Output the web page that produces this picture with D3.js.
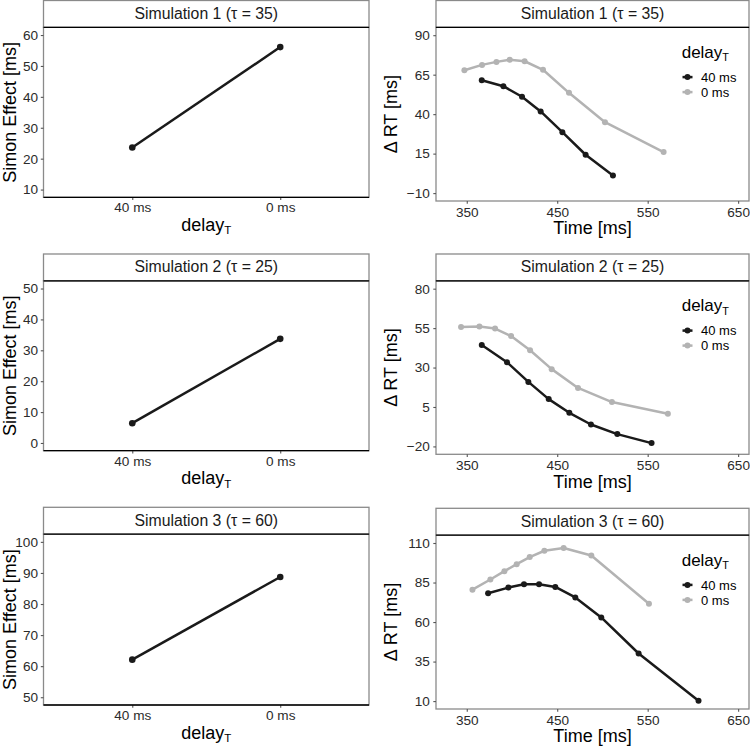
<!DOCTYPE html>
<html>
<head>
<meta charset="utf-8">
<script src="https://cdn.jsdelivr.net/npm/d3@7"></script>
<style>
  body { margin: 0; background: #fff; }
  svg, svg text { font-family: "Liberation Sans", Arial, Helvetica, sans-serif; }
</style>
</head>
<body>
<div id="chart"></div>
<script>
// values
let simTitles = ["Simulation 1 (\u03C4 = 35)", "Simulation 2 (\u03C4 = 25)", "Simulation 3 (\u03C4 = 60)"];
let delayLabels = ["40 ms", "0 ms"];

let simonEffect1 = [23.6, 56.1];
let simonEffect2 = [6.4, 33.7];
let simonEffect3 = [62.1, 88.7];

let simonTicks1 = [10, 20, 30, 40, 50, 60];
let simonTicks2 = [0, 10, 20, 30, 40, 50];
let simonTicks3 = [50, 60, 70, 80, 90, 100];

let time40_1 = [366.6, 390.5, 411.1, 431.7, 455.7, 481.4, 511.6];
let rt40_1   = [61.5, 57.7, 51.0, 41.7, 28.6, 14.3, 1.2];
let time0_1  = [347.4, 366.9, 382.8, 397.5, 414.0, 434.3, 463.0, 502.8, 567.6];
let rt0_1    = [67.8, 71.2, 73.1, 74.4, 73.5, 68.1, 53.5, 34.9, 16.0];

let time40_2 = [366.6, 394.5, 418.1, 440.6, 463.4, 487.3, 516.4, 554.3];
let rt40_2   = [44.3, 33.4, 20.9, 10.0, 1.3, -6.1, -12.2, -17.9];
let time0_2  = [343.7, 364.0, 381.3, 399.0, 420.0, 443.9, 473.0, 510.5, 572.3];
let rt0_2    = [55.7, 56.0, 54.7, 50.0, 41.0, 29.0, 17.1, 8.1, 0.7];

let time40_3 = [373.6, 396.0, 413.3, 429.9, 447.9, 470.0, 498.7, 540.0, 606.2];
let rt40_3   = [78.2, 81.8, 83.9, 83.9, 82.2, 75.6, 62.9, 40.1, 10.2];
let time0_3  = [356.3, 376.1, 391.6, 405.2, 419.6, 435.8, 457.1, 487.7, 551.4];
let rt0_3    = [80.5, 86.9, 92.2, 96.6, 101.1, 105.1, 106.8, 102.1, 71.6];

let rtTicks1 = [-10, 15, 40, 65, 90];
let rtTicks2 = [-20, 5, 30, 55, 80];
let rtTicks3 = [10, 35, 60, 85, 110];
let timeTicks = [350, 450, 550, 650];
let timeRange = [316, 662];

let fontFamily = '"Liberation Sans", Arial, Helvetica, sans-serif';
let darkColor = "#1a1a1a",
    lightColor = "#b3b3b3",
    borderColor = "#8a8a8a",
    tickTextColor = "#2b2b2b";

let svg = d3.select("#chart").append("svg")
  .attr("width", 750)
  .attr("height", 752);

function zip(xs, ys){ return xs.map(function(x, i){ return [x, ys[i]] }) }

let leftPanels = [
  { title: simTitles[0], values: simonEffect1, ticks: simonTicks1, top: 0.5, bottom: 197.3 },
  { title: simTitles[1], values: simonEffect2, ticks: simonTicks2, top: 254, bottom: 450.7 },
  { title: simTitles[2], values: simonEffect3, ticks: simonTicks3, top: 507.3, bottom: 705 }
];

let rightPanels = [
  { title: simTitles[0], s40: zip(time40_1, rt40_1), s0: zip(time0_1, rt0_1), ticks: rtTicks1, top: 0.5, bottom: 201 },
  { title: simTitles[1], s40: zip(time40_2, rt40_2), s0: zip(time0_2, rt0_2), ticks: rtTicks2, top: 254, bottom: 454.3 },
  { title: simTitles[2], s40: zip(time40_3, rt40_3), s0: zip(time0_3, rt0_3), ticks: rtTicks3, top: 508.3, bottom: 709 }
];

let stripH = 26.8;

function drawStrip(g, x0, x1, top, title){
  g.append("rect")
    .attr("x", x0).attr("y", top)
    .attr("width", x1 - x0).attr("height", stripH)
    .attr("fill", "#fff")
    .attr("stroke", borderColor).attr("stroke-width", 1.3)
  g.append("text")
    .attr("x", (x0 + x1) / 2).attr("y", top + 18.2)
    .attr("text-anchor", "middle")
    .style("font-size", "15.8px")
    .attr("fill", darkColor)
    .text(title)
}

function styleAxis(ax){
  ax.attr("font-family", fontFamily)
  ax.select(".domain").remove()
  ax.selectAll(".tick line").attr("stroke", "#555").attr("stroke-width", 1.1)
  ax.selectAll(".tick text")
    .attr("fill", tickTextColor)
    .style("font-family", fontFamily)
    .style("font-size", "13.6px")
}

function subTitle(g, x, y, anchor, size){
  let t = g.append("text")
    .attr("x", x).attr("y", y)
    .attr("text-anchor", anchor)
    .attr("fill", "#000")
    .style("font-size", size + "px")
  t.append("tspan").text("delay")
  t.append("tspan").attr("dy", size * 0.2).style("font-size", (size * 0.64) + "px").text("T")
  return t
}

// left column: Simon effect by delay
leftPanels.forEach(function(p){
  let g = svg.append("g")
  let x0 = 43.5, x1 = 369,
      plotTop = p.top + stripH
  let lo = d3.min(p.ticks), hi = d3.max(p.ticks), pad = (hi - lo) * 0.05

  let x = d3.scalePoint().domain(delayLabels).range([x0, x1]).padding(0.6)
  let y = d3.scaleLinear().domain([lo - pad, hi + pad]).range([p.bottom, plotTop])

  g.append("rect")
    .attr("x", x0).attr("y", plotTop)
    .attr("width", x1 - x0).attr("height", p.bottom - plotTop)
    .attr("fill", "#fff").attr("stroke", borderColor).attr("stroke-width", 1.3)

  let yAx = g.append("g").attr("transform", "translate(" + x0 + ",0)")
    .call(d3.axisLeft(y).tickValues(p.ticks).tickSize(2.7).tickPadding(2.8))
  styleAxis(yAx)
  let xAx = g.append("g").attr("transform", "translate(0," + p.bottom + ")")
    .call(d3.axisBottom(x).tickSize(2.7).tickPadding(2.6))
  styleAxis(xAx)

  g.append("line")
    .attr("x1", x0).attr("x2", x1)
    .attr("y1", p.bottom).attr("y2", p.bottom)
    .attr("stroke", "#000").attr("stroke-width", 1.3)

  let pts = delayLabels.map(function(d, i){ return [d, p.values[i]] })
  g.append("path")
    .datum(pts)
    .attr("fill", "none").attr("stroke", darkColor).attr("stroke-width", 2.5)
    .attr("d", d3.line().x(function(d){ return x(d[0]) }).y(function(d){ return y(d[1]) }))
  g.selectAll("circle.pt").data(pts).enter().append("circle")
    .attr("cx", function(d){ return x(d[0]) })
    .attr("cy", function(d){ return y(d[1]) })
    .attr("r", 3.3).attr("fill", darkColor)

  drawStrip(g, x0, x1, p.top, p.title)
  g.append("line")
    .attr("x1", x0).attr("x2", x1)
    .attr("y1", plotTop).attr("y2", plotTop)
    .attr("stroke", "#000").attr("stroke-width", 1.3)

  g.append("text")
    .attr("transform", "translate(16," + ((plotTop + p.bottom) / 2) + ") rotate(-90)")
    .attr("text-anchor", "middle")
    .style("font-size", "18px").attr("fill", "#000")
    .text("Simon Effect [ms]")

  subTitle(g, (x0 + x1) / 2, p.bottom + 33.5, "middle", 18)
})

// right column: delta RT over time
rightPanels.forEach(function(p){
  let g = svg.append("g")
  let x0 = 436, x1 = 749,
      plotTop = p.top + stripH
  let lo = d3.min(p.ticks), hi = d3.max(p.ticks), pad = (hi - lo) * 0.05

  let x = d3.scaleLinear().domain(timeRange).range([x0, x1])
  let y = d3.scaleLinear().domain([lo - pad, hi + pad]).range([p.bottom, plotTop])

  g.append("rect")
    .attr("x", x0).attr("y", plotTop)
    .attr("width", x1 - x0).attr("height", p.bottom - plotTop)
    .attr("fill", "#fff").attr("stroke", borderColor).attr("stroke-width", 1.3)

  let yAx = g.append("g").attr("transform", "translate(" + x0 + ",0)")
    .call(d3.axisLeft(y).tickValues(p.ticks).tickSize(2.7).tickPadding(3.5))
  styleAxis(yAx)
  let xAx = g.append("g").attr("transform", "translate(0," + p.bottom + ")")
    .call(d3.axisBottom(x).tickValues(timeTicks).tickSize(2.7).tickPadding(3.2))
  styleAxis(xAx)

  let line = d3.line().x(function(d){ return x(d[0]) }).y(function(d){ return y(d[1]) })
  let series = [{ pts: p.s0, color: lightColor }, { pts: p.s40, color: darkColor }]
  series.forEach(function(s){
    g.append("path").datum(s.pts)
      .attr("fill", "none").attr("stroke", s.color).attr("stroke-width", 2.5)
      .attr("stroke-linejoin", "round")
      .attr("d", line)
    g.selectAll(null).data(s.pts).enter().append("circle")
      .attr("cx", function(d){ return x(d[0]) })
      .attr("cy", function(d){ return y(d[1]) })
      .attr("r", 3).attr("fill", s.color)
  })

  drawStrip(g, x0, x1, p.top, p.title)
  g.append("line")
    .attr("x1", x0).attr("x2", x1)
    .attr("y1", plotTop).attr("y2", plotTop)
    .attr("stroke", "#000").attr("stroke-width", 1.3)

  g.append("text")
    .attr("transform", "translate(396.5," + ((plotTop + p.bottom) / 2) + ") rotate(-90)")
    .attr("text-anchor", "middle")
    .style("font-size", "18px").attr("fill", "#000")
    .text("\u0394 RT [ms]")

  g.append("text")
    .attr("x", (x0 + x1) / 2).attr("y", p.bottom + 33.3)
    .attr("text-anchor", "middle")
    .style("font-size", "18px").attr("fill", "#000")
    .text("Time [ms]")

  // legend
  let lg = g.append("g")
  subTitle(lg, 681.7, plotTop + 30.5, "start", 17)
  let items = [{ label: delayLabels[0], color: darkColor }, { label: delayLabels[1], color: lightColor }]
  items.forEach(function(it, i){
    let cy = plotTop + 49.8 + i * 15
    lg.append("line")
      .attr("x1", 682.5).attr("x2", 692.5)
      .attr("y1", cy).attr("y2", cy)
      .attr("stroke", it.color).attr("stroke-width", 2.5)
    lg.append("circle").attr("cx", 687.5).attr("cy", cy).attr("r", 3).attr("fill", it.color)
    lg.append("text")
      .attr("x", 701).attr("y", cy + 4.6)
      .style("font-size", "13px").attr("fill", "#000")
      .text(it.label)
  })
})
</script>
</body>
</html>
